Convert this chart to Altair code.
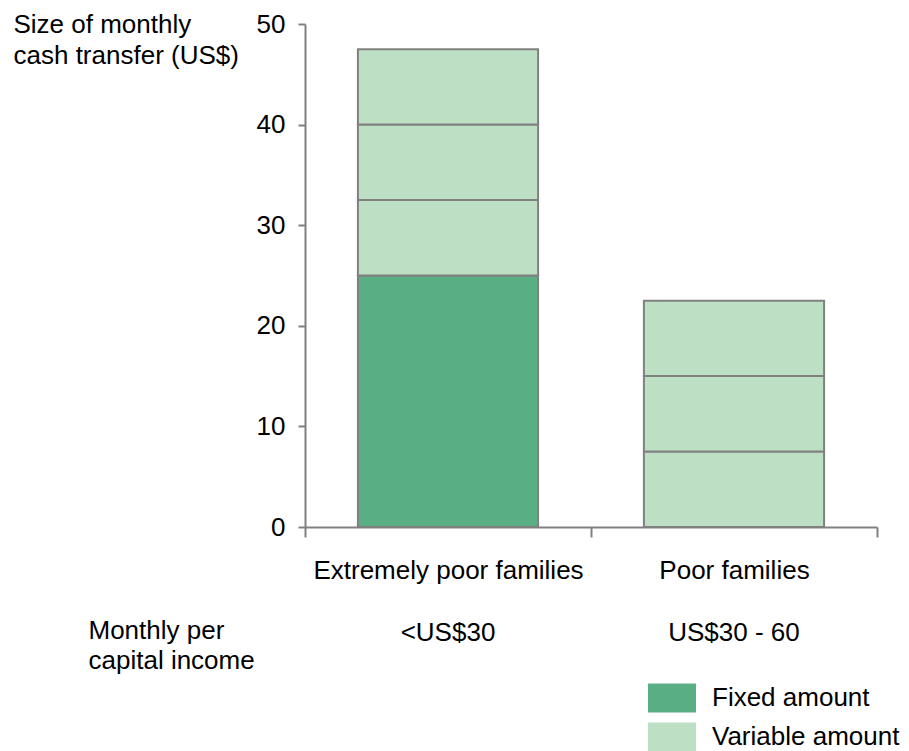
import altair as alt
import pandas as pd

# ---- data ----
categories = ["Extremely poor families", "Poor families"]
income_labels = ["<US$30", "US$30 - 60"]

seg_category = ["Extremely poor families"] * 4 + ["Poor families"] * 3
seg_type = ["Fixed amount", "Variable amount", "Variable amount", "Variable amount",
            "Variable amount", "Variable amount", "Variable amount"]
seg_value = [25, 7.5, 7.5, 7.5, 7.5, 7.5, 7.5]
seg_order = [0, 1, 2, 3, 0, 1, 2]

legend_types = ["Fixed amount", "Variable amount"]
legend_colors = ["#5aae84", "#bde0c4"]

y_ticks = [0, 10, 20, 30, 40, 50]

df = pd.DataFrame({"category": seg_category, "type": seg_type,
                   "value": seg_value, "order": seg_order})
df_inc = pd.DataFrame({"category": categories, "income": income_labels})

FONT = "Liberation Sans"
FS = 26
GREY = "#808080"

x_enc = alt.X(
    "category:N", sort=categories,
    scale=alt.Scale(paddingInner=0, paddingOuter=0),
    axis=alt.Axis(
        tickBand="extent", tickSize=10, tickWidth=2, tickColor=GREY,
        domainColor=GREY, domainWidth=2, grid=False,
        labelAngle=0, labelFont=FONT, labelFontSize=FS, labelColor="#000",
        labelBaseline="alphabetic", labelPadding=41, labelLimit=0,
        title=["Monthly per", "capital income"], titleX=-217, titleY=111,
        titleAlign="left", titleAngle=0, titleBaseline="alphabetic",
        titleFont=FONT, titleFontSize=FS, titleFontWeight="normal",
        titleColor="#000", titleLineHeight=30,
    ),
)

bars = alt.Chart(df).mark_bar(
    stroke=GREY, strokeWidth=2, width=alt.RelativeBandSize(0.63)
).encode(
    x=x_enc,
    y=alt.Y(
        "value:Q", stack="zero",
        scale=alt.Scale(domain=[0, 50], nice=False),
        axis=alt.Axis(
            values=y_ticks, tickSize=7, tickWidth=2, tickColor=GREY,
            domainColor=GREY, domainWidth=2, grid=False,
            labelFont=FONT, labelFontSize=FS, labelColor="#000", labelPadding=13,
            title=["Size of monthly", "cash transfer (US$)"], titleX=-292, titleY=8,
            titleAlign="left", titleAngle=0, titleBaseline="alphabetic",
            titleFont=FONT, titleFontSize=FS, titleFontWeight="normal",
            titleColor="#000", titleLineHeight=31,
        ),
    ),
    color=alt.Color(
        "type:N",
        scale=alt.Scale(domain=legend_types, range=legend_colors),
        legend=alt.Legend(
            orient="none", legendX=343, legendY=650, title=None, padding=0,
            symbolType="M-1,-0.6L1,-0.6L1,0.6L-1,0.6Z", symbolSize=2304,
            symbolStrokeWidth=0, symbolOpacity=1,
            labelFont=FONT, labelFontSize=FS, labelColor="#000",
            labelOffset=16, labelLimit=0, rowPadding=-6,
        ),
    ),
    order=alt.Order("order:Q"),
)

income = alt.Chart(df_inc).mark_text(
    font=FONT, fontSize=FS, color="#000", baseline="alphabetic", align="center"
).encode(
    x=alt.X("category:N", sort=categories),
    y=alt.value(617),
    text="income:N",
)

chart = alt.layer(bars, income).properties(
    width=572, height=503,
    autosize=alt.AutoSizeParams(type="none"),
    padding={"left": 305, "top": 24, "right": 32, "bottom": 224},
).configure_view(strokeWidth=0)

chart.save("out.html", embed_options={"renderer": "svg", "actions": False})
